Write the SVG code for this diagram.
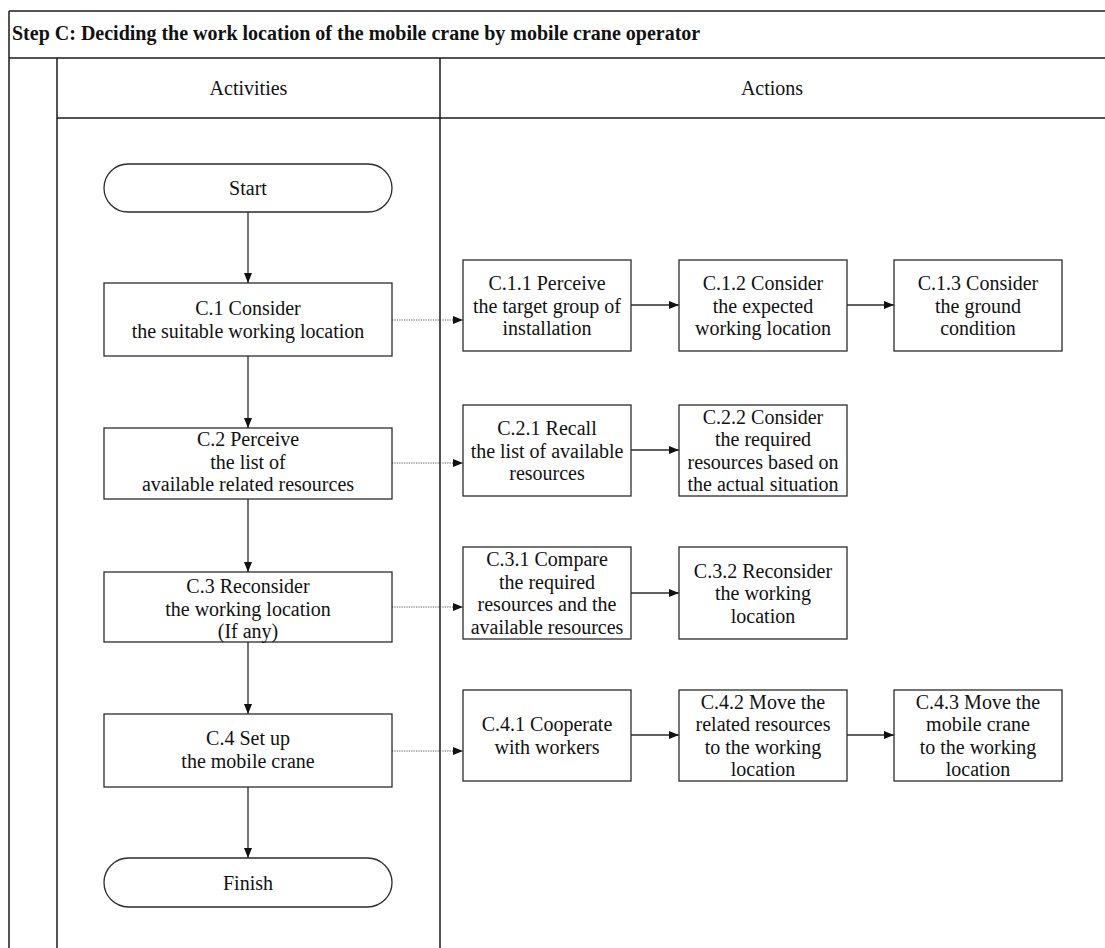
<svg xmlns="http://www.w3.org/2000/svg" width="1105" height="948" viewBox="0 0 1105 948">
  <style>
    .frame { stroke: #1a1a1a; stroke-width: 1.5; fill: none; }
    .box { fill: #ffffff; stroke: #2b2b2b; stroke-width: 1.3; }
    text { font-family: "Liberation Serif", "Times New Roman", Tinos, "DejaVu Serif", serif; }
    .t { font-size: 20px; font-weight: normal; fill: #111111; text-anchor: middle; }
    .title { font-size: 20px; font-weight: bold; fill: #111111; }
    .flow { stroke: #2b2b2b; stroke-width: 1.3; fill: none; marker-end: url(#arrow); }
    .link { stroke: #555555; stroke-width: 1; stroke-dasharray: 1.2 1.2; fill: none; marker-end: url(#arrow); }
  </style>
  <defs>
    <marker id="arrow" markerWidth="10" markerHeight="8" refX="10" refY="4" orient="auto" markerUnits="userSpaceOnUse">
      <path d="M0,0 L10,4 L0,8 Z" fill="#111111"/>
    </marker>
  </defs>

  <rect width="1105" height="948" fill="#ffffff"/>

  <!-- swimlane frame -->
  <g id="frame">
    <line class="frame" x1="9" y1="11" x2="1105" y2="11" stroke-width="2"/>
    <line class="frame" x1="9" y1="11" x2="9" y2="948"/>
    <line class="frame" x1="9" y1="58" x2="1105" y2="58"/>
    <line class="frame" x1="57" y1="58" x2="57" y2="948"/>
    <line class="frame" x1="440" y1="58" x2="440" y2="948"/>
    <line class="frame" x1="57" y1="118" x2="1105" y2="118"/>
    <text class="title" x="12" y="40">Step C: Deciding the work location of the mobile crane by mobile crane operator</text>
    <text class="t" x="248.5" y="95">Activities</text>
    <text class="t" x="772" y="95">Actions</text>
  </g>

  <!-- connectors -->
  <g id="connectors">
    <line class="flow" x1="248" y1="212" x2="248" y2="283"/>
    <line class="flow" x1="248" y1="356" x2="248" y2="428"/>
    <line class="flow" x1="248" y1="499" x2="248" y2="572"/>
    <line class="flow" x1="248" y1="642" x2="248" y2="714"/>
    <line class="flow" x1="248" y1="787" x2="248" y2="858"/>

    <line class="link" x1="392" y1="320" x2="463" y2="320"/>
    <line class="link" x1="392" y1="463" x2="463" y2="463"/>
    <line class="link" x1="392" y1="607" x2="463" y2="607"/>
    <line class="link" x1="392" y1="751" x2="463" y2="751"/>

    <line class="flow" x1="631" y1="305" x2="679" y2="305"/>
    <line class="flow" x1="847" y1="305" x2="894" y2="305"/>
    <line class="flow" x1="631" y1="450" x2="679" y2="450"/>
    <line class="flow" x1="631" y1="593" x2="679" y2="593"/>
    <line class="flow" x1="631" y1="735" x2="679" y2="735"/>
    <line class="flow" x1="847" y1="735" x2="894" y2="735"/>
  </g>

  <!-- activities -->
  <g id="start">
    <rect class="box" x="104" y="164" width="288" height="48" rx="24"/>
    <text class="t" x="248" y="195">Start</text>
  </g>
  <g id="c1">
    <rect class="box" x="104" y="283" width="288" height="73"/>
    <text class="t" x="248" y="315">C.1 Consider</text>
    <text class="t" x="248" y="337.5">the suitable working location</text>
  </g>
  <g id="c2">
    <rect class="box" x="104" y="428" width="288" height="71"/>
    <text class="t" x="248" y="446">C.2 Perceive</text>
    <text class="t" x="248" y="468.5">the list of</text>
    <text class="t" x="248" y="491">available related resources</text>
  </g>
  <g id="c3">
    <rect class="box" x="104" y="572" width="288" height="70"/>
    <text class="t" x="248" y="593">C.3 Reconsider</text>
    <text class="t" x="248" y="615.5">the working location</text>
    <text class="t" x="248" y="638">(If any)</text>
  </g>
  <g id="c4">
    <rect class="box" x="104" y="714" width="288" height="73"/>
    <text class="t" x="248" y="745">C.4 Set up</text>
    <text class="t" x="248" y="767.5">the mobile crane</text>
  </g>
  <g id="finish">
    <rect class="box" x="104" y="858" width="288" height="49" rx="24.5"/>
    <text class="t" x="248" y="889.5">Finish</text>
  </g>

  <!-- actions for C.1 -->
  <g id="c1-1">
    <rect class="box" x="463" y="260" width="168" height="91"/>
    <text class="t" x="547" y="290">C.1.1 Perceive</text>
    <text class="t" x="547" y="312.5">the target group of</text>
    <text class="t" x="547" y="335">installation</text>
  </g>
  <g id="c1-2">
    <rect class="box" x="679" y="260" width="168" height="91"/>
    <text class="t" x="763" y="290">C.1.2 Consider</text>
    <text class="t" x="763" y="312.5">the expected</text>
    <text class="t" x="763" y="335">working location</text>
  </g>
  <g id="c1-3">
    <rect class="box" x="894" y="260" width="168" height="91"/>
    <text class="t" x="978" y="290">C.1.3 Consider</text>
    <text class="t" x="978" y="312.5">the ground</text>
    <text class="t" x="978" y="335">condition</text>
  </g>

  <!-- actions for C.2 -->
  <g id="c2-1">
    <rect class="box" x="463" y="405" width="168" height="91"/>
    <text class="t" x="547" y="435">C.2.1 Recall</text>
    <text class="t" x="547" y="457.5">the list of available</text>
    <text class="t" x="547" y="480">resources</text>
  </g>
  <g id="c2-2">
    <rect class="box" x="679" y="405" width="168" height="91"/>
    <text class="t" x="763" y="423.5">C.2.2 Consider</text>
    <text class="t" x="763" y="446">the required</text>
    <text class="t" x="763" y="468.5">resources based on</text>
    <text class="t" x="763" y="491">the actual situation</text>
  </g>

  <!-- actions for C.3 -->
  <g id="c3-1">
    <rect class="box" x="463" y="547" width="168" height="92"/>
    <text class="t" x="547" y="566">C.3.1 Compare</text>
    <text class="t" x="547" y="588.5">the required</text>
    <text class="t" x="547" y="611">resources and the</text>
    <text class="t" x="547" y="633.5">available resources</text>
  </g>
  <g id="c3-2">
    <rect class="box" x="679" y="547" width="168" height="92"/>
    <text class="t" x="763" y="577.5">C.3.2 Reconsider</text>
    <text class="t" x="763" y="600">the working</text>
    <text class="t" x="763" y="622.5">location</text>
  </g>

  <!-- actions for C.4 -->
  <g id="c4-1">
    <rect class="box" x="463" y="690" width="168" height="91"/>
    <text class="t" x="547" y="731">C.4.1 Cooperate</text>
    <text class="t" x="547" y="753.5">with workers</text>
  </g>
  <g id="c4-2">
    <rect class="box" x="679" y="690" width="168" height="91"/>
    <text class="t" x="763" y="708.5">C.4.2 Move the</text>
    <text class="t" x="763" y="731">related resources</text>
    <text class="t" x="763" y="753.5">to the working</text>
    <text class="t" x="763" y="776">location</text>
  </g>
  <g id="c4-3">
    <rect class="box" x="894" y="690" width="168" height="91"/>
    <text class="t" x="978" y="708.5">C.4.3 Move the</text>
    <text class="t" x="978" y="731">mobile crane</text>
    <text class="t" x="978" y="753.5">to the working</text>
    <text class="t" x="978" y="776">location</text>
  </g>
</svg>
